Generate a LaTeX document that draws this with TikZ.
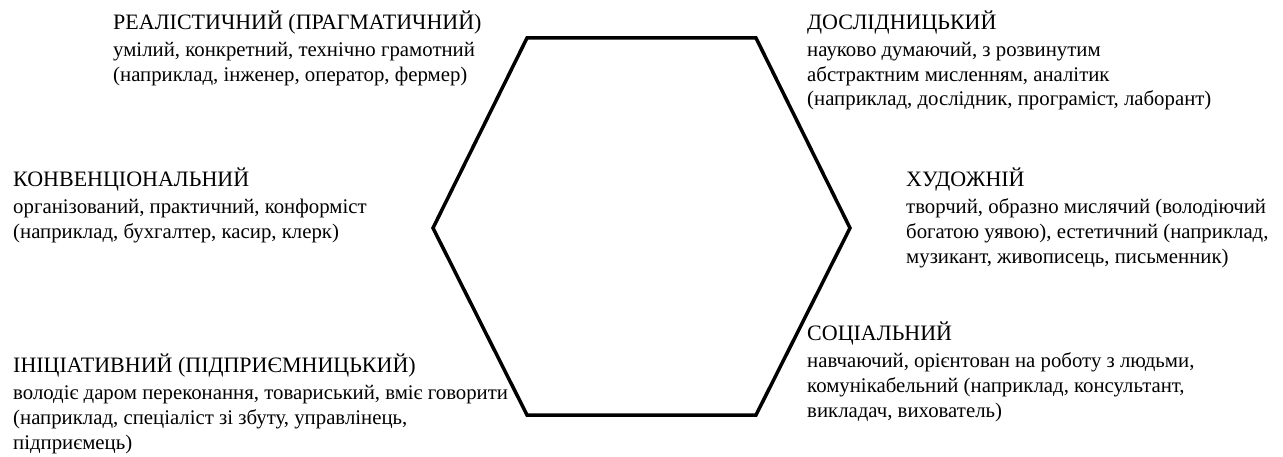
\documentclass[tikz,border=0pt]{standalone}
\usepackage{fontspec}
\setmainfont{Liberation Serif}
\tikzset{
  hdr/.style={anchor=base west, inner sep=0pt, font=\fontsize{22}{26}\selectfont},
  txt/.style={anchor=base west, inner sep=0pt, font=\fontsize{20.8}{25}\selectfont},
  hexline/.style={draw=black, line width=3.5pt, line join=miter}
}
\begin{document}
\begin{tikzpicture}[x=1pt,y=-1pt]
\useasboundingbox (0,0) rectangle (1283,457);
% hexagon
\coordinate (h1) at (527,38);
\coordinate (h2) at (756,38);
\coordinate (h3) at (850,228);
\coordinate (h4) at (756,415);
\coordinate (h5) at (527,415);
\coordinate (h6) at (433,228);
\draw[hexline] (h1) -- (h2) -- (h3) -- (h4) -- (h5) -- (h6) -- cycle;
% top left
\node[hdr] (a0) at (113,30) {РЕАЛІСТИЧНИЙ (ПРАГМАТИЧНИЙ)};
\node[txt] (a1) at (113,57) {умілий, конкретний, технічно грамотний};
\node[txt] (a2) at (113,82) {(наприклад, інженер, оператор, фермер)};
% top right
\node[hdr] (b0) at (807,30) {ДОСЛІДНИЦЬКИЙ};
\node[txt] (b1) at (807,57) {науково думаючий, з розвинутим};
\node[txt] (b2) at (807,82) {абстрактним мисленням, аналітик};
\node[txt] (b3) at (807,106) {(наприклад, дослідник, програміст, лаборант)};
% middle left
\node[hdr] (c0) at (13,187) {КОНВЕНЦІОНАЛЬНИЙ};
\node[txt] (c1) at (13,214) {організований, практичний, конформіст};
\node[txt] (c2) at (13,239) {(наприклад, бухгалтер, касир, клерк)};
% middle right
\node[hdr] (d0) at (906,187) {ХУДОЖНІЙ};
\node[txt] (d1) at (906,214) {творчий, образно мислячий (володіючий};
\node[txt] (d2) at (906,239) {богатою уявою), естетичний (наприклад,};
\node[txt] (d3) at (906,264) {музикант, живописець, письменник)};
% bottom left
\node[hdr] (e0) at (13,372) {ІНІЦІАТИВНИЙ (ПІДПРИЄМНИЦЬКИЙ)};
\node[txt] (e1) at (13,399) {володіє даром переконання, товариський, вміє говорити};
\node[txt] (e2) at (13,424) {(наприклад, спеціаліст зі збуту, управлінець,};
\node[txt] (e3) at (13,449) {підприємець)};
% bottom right
\node[hdr] (f0) at (807,340) {СОЦІАЛЬНИЙ};
\node[txt] (f1) at (807,367) {навчаючий, орієнтован на роботу з людьми,};
\node[txt] (f2) at (807,392) {комунікабельний (наприклад, консультант,};
\node[txt] (f3) at (807,417) {викладач, вихователь)};
\end{tikzpicture}
\end{document}
